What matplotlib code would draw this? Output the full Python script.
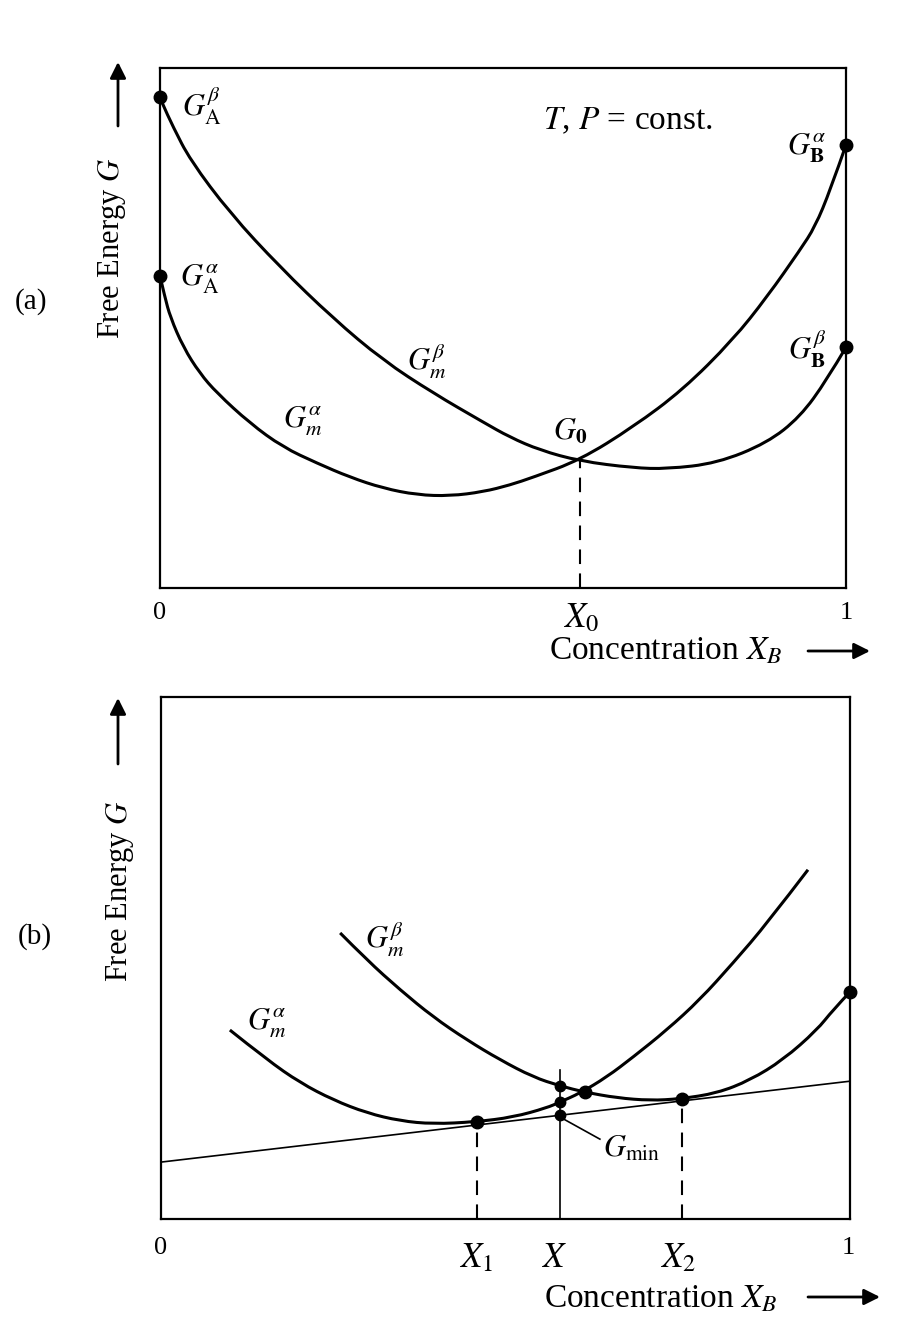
import matplotlib.pyplot as plt
from matplotlib.path import Path
from matplotlib.patches import PathPatch

plt.rcParams['font.family'] = 'serif'
plt.rcParams['font.serif'] = ['Liberation Serif', 'DejaVu Serif']
plt.rcParams['mathtext.fontset'] = 'stix'

# ---- panel (a): free energy curves (x = X_B, G in arbitrary units 0..1)
xa_alpha = [0.0, 0.007, 0.015, 0.034, 0.058, 0.083, 0.131, 0.179, 0.229, 0.277, 0.325,
            0.375, 0.423, 0.471, 0.510, 0.544, 0.612, 0.690, 0.762, 0.835, 0.885,
            0.933, 0.955, 0.977, 1.0]
ga_alpha = [0.600, 0.560, 0.521, 0.463, 0.413, 0.375, 0.317, 0.271, 0.240, 0.213, 0.192,
            0.179, 0.177, 0.185, 0.198, 0.213, 0.246, 0.310, 0.381, 0.477, 0.560,
            0.650, 0.695, 0.765, 0.852]
xa_beta = [0.0, 0.003, 0.019, 0.044, 0.102, 0.175, 0.252, 0.325, 0.398, 0.471, 0.510,
           0.554, 0.612, 0.690, 0.739, 0.812, 0.885, 0.933, 0.972, 1.0]
ga_beta = [0.944, 0.933, 0.887, 0.823, 0.721, 0.617, 0.519, 0.438, 0.375, 0.319, 0.290,
           0.265, 0.244, 0.231, 0.229, 0.240, 0.279, 0.329, 0.400, 0.463]
end_x = [0.0, 0.0, 1.0, 1.0]
end_g = [0.944, 0.600, 0.852, 0.463]   # G_A^beta, G_A^alpha, G_B^alpha, G_B^beta
x0, g0 = 0.612, 0.244

# ---- panel (b)
xb_alpha = [0.100, 0.154, 0.202, 0.250, 0.299, 0.347, 0.395, 0.456, 0.511, 0.560,
            0.579, 0.608, 0.647, 0.685, 0.734, 0.782, 0.830, 0.880, 0.939]
gb_alpha = [0.362, 0.305, 0.261, 0.228, 0.203, 0.188, 0.182, 0.186, 0.195, 0.213,
            0.224, 0.241, 0.272, 0.310, 0.362, 0.420, 0.490, 0.567, 0.669]
xb_beta = [0.260, 0.299, 0.347, 0.395, 0.444, 0.492, 0.540, 0.579, 0.615, 0.662,
           0.710, 0.753, 0.807, 0.855, 0.903, 0.952, 0.975, 1.0]
gb_beta = [0.548, 0.496, 0.439, 0.387, 0.343, 0.305, 0.272, 0.255, 0.243, 0.232,
           0.227, 0.230, 0.241, 0.266, 0.305, 0.362, 0.400, 0.435]
tangent_x = [0.0, 1.0]
tangent_g = [0.109, 0.264]
x1, g1 = 0.459, 0.186
x2, g2 = 0.756, 0.230
xm = 0.579
xm_top = 0.285
xm_dots = [0.255, 0.224, 0.199]       # beta, alpha, G_min at X
cross_x, cross_g = 0.615, 0.243

W, H = 921, 1330
fig = plt.figure(figsize=(W / 100, H / 100), dpi=100)


def put(px, py, s, **kw):
    fig.text(px / W, 1 - py / H, s, **kw)


def arrow(px0, py0, px1, py1):
    fig.add_artist(plt.Annotation('', xy=(px1 / W, 1 - py1 / H), xytext=(px0 / W, 1 - py0 / H),
                                  xycoords='figure fraction', textcoords='figure fraction',
                                  arrowprops=dict(arrowstyle='-|>', lw=2, color='k',
                                                  mutation_scale=24, shrinkA=0, shrinkB=0)))


def curve(ax, xs, ys, lw=2.2):
    # smooth quadratic path through the read points
    pts = list(zip(xs, ys))
    verts = [pts[0]]
    codes = [Path.MOVETO]
    for i in range(1, len(pts) - 1):
        if i < len(pts) - 2:
            end = ((pts[i][0] + pts[i + 1][0]) / 2, (pts[i][1] + pts[i + 1][1]) / 2)
        else:
            end = pts[i + 1]
        verts += [pts[i], end]
        codes += [Path.CURVE3, Path.CURVE3]
    ax.add_patch(PathPatch(Path(verts, codes), fill=False, lw=lw, ec='k',
                           joinstyle='round', clip_on=False))


def frame(ax):
    ax.set_xlim(0, 1)
    ax.set_ylim(0, 1)
    ax.set_xticks([])
    ax.set_yticks([])
    for s in ax.spines.values():
        s.set_linewidth(1.6)


dash = (0, (7, 4.5))
fs = 22

# ---------------- (a)
axa = fig.add_axes([160 / W, 1 - 588 / H, 686 / W, 520 / H])
frame(axa)
curve(axa, xa_alpha, ga_alpha)
curve(axa, xa_beta, ga_beta)
axa.plot(end_x, end_g, 'o', color='k', ms=9, clip_on=False)
axa.plot([x0, x0], [0, g0], color='k', lw=1.5, ls=dash)

put(182, 117, r'$G_{\mathrm{A}}^{\beta}$', fontsize=fs)
put(180, 286, r'$G_{\mathrm{A}}^{\alpha}$', fontsize=fs)
put(826, 155, r'$G_{\mathbf{B}}^{\alpha}$', fontsize=fs, ha='right')
put(826, 360, r'$G_{\mathbf{B}}^{\beta}$', fontsize=fs, ha='right')
put(407, 370, r'$G_m^{\beta}$', fontsize=fs)
put(283, 428, r'$G_m^{\alpha}$', fontsize=fs)
put(553, 440, r'$G_{\mathbf{0}}$', fontsize=fs)
put(543, 129, r'$T$, $P$ = const.', fontsize=24)

put(160, 613, '0', fontsize=19, ha='center', va='center')
put(846, 613, '1', fontsize=19, ha='center', va='center')
put(563, 627, r'$X_{\mathit{0}}$', fontsize=25)
put(549, 660, r'Concentration $X_B$', fontsize=24)
arrow(808, 651, 870, 651)

put(112, 248, r'Free Energy $G$', fontsize=22, rotation=90, ha='center', va='center')
arrow(118, 126, 118, 62)
put(31, 302, '(a)', fontsize=21, ha='center', va='center')

# ---------------- (b)
axb = fig.add_axes([161 / W, 1 - 1219 / H, 689 / W, 522 / H])
frame(axb)
curve(axb, xb_alpha, gb_alpha)
curve(axb, xb_beta, gb_beta)
axb.plot(tangent_x, tangent_g, color='k', lw=1.2)
axb.plot([1.0], [gb_beta[-1]], 'o', color='k', ms=9, clip_on=False)
axb.plot([x1, x2, cross_x], [g1, g2, cross_g], 'o', color='k', ms=9)
axb.plot([xm] * 3, xm_dots, 'o', color='k', ms=7.5)
axb.plot([x1, x1], [0, g1], color='k', lw=1.5, ls=dash)
axb.plot([x2, x2], [0, g2], color='k', lw=1.5, ls=dash)
axb.plot([xm, xm], [0, xm_top], color='k', lw=1.2)
axb.plot([xm + 0.006, xm + 0.058], [xm_dots[2] - 0.008, xm_dots[2] - 0.046], color='k', lw=1.2)

put(365, 948, r'$G_m^{\beta}$', fontsize=fs)
put(247, 1030, r'$G_m^{\alpha}$', fontsize=fs)
put(603, 1157, r'$G_{\mathrm{min}}$', fontsize=fs)

put(161, 1248, '0', fontsize=19, ha='center', va='center')
put(848, 1248, '1', fontsize=19, ha='center', va='center')
put(459, 1267, r'$X_{\mathit{1}}$', fontsize=25)
put(541, 1267, r'$X$', fontsize=25)
put(660, 1267, r'$X_2$', fontsize=25)
put(544, 1307, r'Concentration $X_B$', fontsize=24)
arrow(808, 1297, 880, 1297)

put(120, 891, r'Free Energy $G$', fontsize=22, rotation=90, ha='center', va='center')
arrow(118, 764, 118, 698)
put(35, 937, '(b)', fontsize=21, ha='center', va='center')

fig.savefig('out.png', dpi=100)
